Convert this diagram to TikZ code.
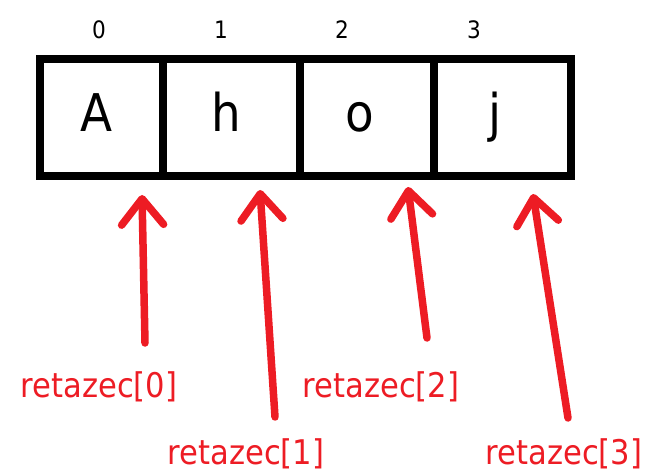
\documentclass[tikz,border=0pt]{standalone}
\usepackage{fontspec}
\setmainfont{DejaVu Sans Condensed}
\usetikzlibrary{arrows.meta}
\definecolor{paintred}{RGB}{237,28,36}
\begin{document}
\begin{tikzpicture}[x=1bp,y=-1bp,
  cell/.style={draw=black,line width=8bp,rectangle,minimum height=117bp,inner sep=0pt},
  letter/.style={anchor=base,inner sep=0pt,font=\fontsize{52bp}{60bp}\selectfont},
  idx/.style={anchor=base,inner sep=0pt,font=\fontsize{24bp}{28bp}\selectfont},
  lbl/.style={anchor=base,inner sep=0pt,text=paintred,font=\fontsize{34bp}{40bp}\selectfont},
  ptr/.style={draw=paintred,line width=7.5bp,line cap=round,
    -{Straight Barb[length=26bp,width=42bp,round]}}]
\useasboundingbox (0,0) rectangle (649,474);
% cells
\node[cell,minimum width=123bp] (c0) at (101.5,117.5) {};
\node[cell,minimum width=137bp] (c1) at (231.5,117.5) {};
\node[cell,minimum width=134bp] (c2) at (367,117.5) {};
\node[cell,minimum width=137bp] (c3) at (502.5,117.5) {};
% letters
\node[letter] (l0) at (96,132) {A};
\node[letter] (l1) at (226,132) {h};
\node[letter] (l2) at (360,132) {o};
\node[letter] (l3) at (495,132) {j};
% indices
\node[idx] (i0) at (99,39) {0};
\node[idx] (i1) at (221,39) {1};
\node[idx] (i2) at (342,39) {2};
\node[idx] (i3) at (474,39) {3};
% labels
\node[lbl] (r0) at (99,397) {retazec[0]};
\node[lbl] (r1) at (246,464) {retazec[1]};
\node[lbl] (r2) at (381,397) {retazec[2]};
\node[lbl] (r3) at (564,464) {retazec[3]};
% arrow ends
\coordinate (t0) at (145,343); \coordinate (p0) at (142,195);
\coordinate (t1) at (275,417); \coordinate (p1) at (260,190);
\coordinate (t2) at (427,338); \coordinate (p2) at (408,187);
\coordinate (t3) at (568,418); \coordinate (p3) at (533,194);
\draw[ptr] (t0) -- (p0);
\draw[ptr] (t1) -- (p1);
\draw[ptr] (t2) -- (p2);
\draw[ptr] (t3) -- (p3);
\end{tikzpicture}
\end{document}
